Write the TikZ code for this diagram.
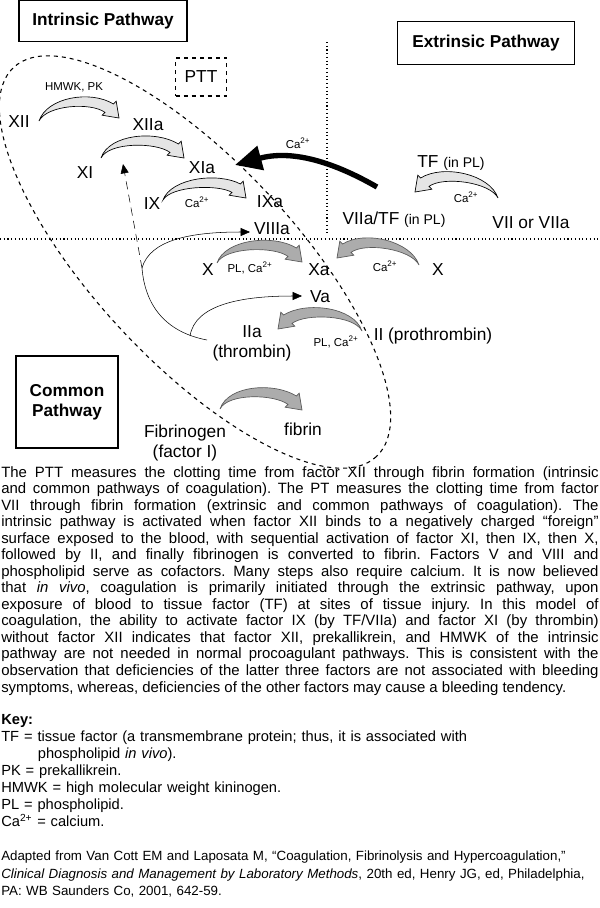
\documentclass[tikz,border=0pt]{standalone}
\usepackage{fontspec}
\setmainfont{Liberation Sans}
\usetikzlibrary{arrows.meta, calc}

% fat curved arrow: style, tail, tip, arch height, direction (1 right, -1 left)
\newcommand\fatarrow[5]{%
  \path[#1] (#2) .. controls ($(#2)+(8*#5,-#4)$) and ($(#3)+(-28*#5,-#4-4)$) .. ($(#3)+(-5.6*#5,-14)$)
    -- ($(#3)+(-2.8*#5,-16.8)$) -- (#3) -- ($(#3)+(-16.8*#5,-2.8)$) -- ($(#3)+(-14*#5,-5.6)$)
    .. controls ($(#3)+(-28*#5,-#4+8)$) and ($(#2)+(8*#5,-#4+8)$) .. (#2) -- cycle;}

\tikzset{
  fac/.style={font=\fontsize{13}{15}\selectfont, inner sep=1pt},
  small/.style={font=\fontsize{8.6}{10}\selectfont, inner sep=1pt},
  title/.style={draw, thick, font=\bfseries\fontsize{12.9}{15}\selectfont, align=center},
  light/.style={draw=black, fill=gray!20, line width=0.5pt},
  dark/.style={draw=gray!70!black, fill=gray!65, line width=0.5pt},
  thin/.style={line width=0.4pt, -{Triangle[length=7pt,width=6pt]}},
  divider/.style={dotted, line width=0.8pt},
}

\begin{document}
\frenchspacing
\begin{tikzpicture}[x=0.75pt, y=-0.75pt]
  \useasboundingbox (0,0) rectangle (600,908);

  % pathway boxes
  \node[title, minimum width=168*0.75pt, minimum height=41*0.75pt] (intr) at (103,21) {Intrinsic Pathway};
  \node[title, minimum width=177*0.75pt, minimum height=43*0.75pt] (extr) at (486,43) {Extrinsic Pathway};
  \node[title, minimum width=102*0.75pt, minimum height=92*0.75pt] (comm) at (67,402) {Common\\Pathway};
  \node[draw, dashed, thick, fac, minimum width=51*0.75pt, minimum height=38*0.75pt] (ptt) at (201,77) {PTT};

  % dividers
  \coordinate (vt) at (327,42);
  \coordinate (vb) at (327,236);
  \coordinate (hl) at (0,239);
  \coordinate (hr) at (600,239);
  \draw[divider] (vt) -- (vb);
  \draw[divider] (hl) -- (hr);

  % dashed ellipse
  \draw[dashed, thick] (195,262) ellipse [x radius=266, y radius=100, rotate=-47];

  % factors
  \node[fac] (xii) at (19,122) {XII};
  \node[small] (hmwk) at (74,87) {HMWK, PK};
  \node[fac] (xiia) at (148,125) {XIIa};
  \node[fac] (xi) at (85,173) {XI};
  \node[fac] (xia) at (202,168) {XIa};
  \node[fac] (ix) at (152,204) {IX};
  \node[small] (ca1) at (197,202) {Ca\textsuperscript{2+}};
  \node[fac] (ixa) at (270,202) {IXa};
  \node[fac] (viiia) at (272,229) {VIIIa};
  \node[small] (ca2) at (298,143) {Ca\textsuperscript{2+}};
  \node[fac] (tf) at (451,163) {TF \fontsize{10.5}{12}\selectfont(in PL)};
  \node[small] (ca3) at (466,197) {Ca\textsuperscript{2+}};
  \node[fac] (viiatf) at (394,220) {VIIa/TF \fontsize{10.5}{12}\selectfont(in PL)};
  \node[fac] (vii) at (531,223) {VII or VIIa};
  \node[fac] (xl) at (208,270) {X};
  \node[small] (plca1) at (250,268) {PL, Ca\textsuperscript{2+}};
  \node[fac] (xa) at (319,270) {Xa};
  \node[small] (ca4) at (385,266) {Ca\textsuperscript{2+}};
  \node[fac] (xr) at (438,270) {X};
  \node[fac] (va) at (320,297) {Va};
  \node[fac, align=center] (iia) at (252,343) {IIa\\(thrombin)};
  \node[small] (plca2) at (336,342) {PL, Ca\textsuperscript{2+}};
  \node[fac] (ii) at (433,336) {II (prothrombin)};
  \node[fac, align=center] (fbg) at (185,443) {Fibrinogen\\(factor I)};
  \node[fac] (fib) at (303,429) {fibrin};

  % activation arrows
  \coordinate (a1s) at (39,121);  \coordinate (a1e) at (119,118);
  \coordinate (a2s) at (101,158); \coordinate (a2e) at (184,158);
  \coordinate (a3s) at (163,200); \coordinate (a3e) at (246,198);
  \coordinate (a4s) at (498,198); \coordinate (a4e) at (415,192);
  \coordinate (a5s) at (217,263); \coordinate (a5e) at (302,262);
  \coordinate (a6s) at (419,265); \coordinate (a6e) at (337,258);
  \coordinate (a7s) at (362,331); \coordinate (a7e) at (278,329);
  \coordinate (a8s) at (220,409); \coordinate (a8e) at (302,410);
  \fatarrow{light}{a1s}{a1e}{24}{1}
  \fatarrow{light}{a2s}{a2e}{24}{1}
  \fatarrow{light}{a3s}{a3e}{22}{1}
  \fatarrow{light}{a4s}{a4e}{24}{-1}
  \fatarrow{dark}{a5s}{a5e}{24}{1}
  \fatarrow{dark}{a6s}{a6e}{24}{-1}
  \fatarrow{dark}{a7s}{a7e}{24}{-1}
  \fatarrow{dark}{a8s}{a8e}{24}{1}

  % TF/VIIa activates IX
  \coordinate (bk) at (377,187);
  \coordinate (bkt) at (235,165);
  \draw[line width=4pt, -{Triangle[length=20pt,width=18pt]}] (bk) .. controls (330,160) and (290,150) .. (bkt);

  % thrombin feedback
  \coordinate (th1) at (207,340);
  \coordinate (th2) at (190,336);
  \coordinate (jn) at (142,268);
  \coordinate (xit) at (123,164);
  \coordinate (viiit) at (250,232);
  \coordinate (vat) at (302,296);
  \draw[line width=0.4pt] (th1) .. controls (165,332) and (145,305) .. (jn);
  \draw[thin, dash pattern=on 6pt off 4pt] (jn) -- (xit);
  \draw[thin] (jn) .. controls (150,240) and (190,232) .. (viiit);
  \draw[thin] (th2) .. controls (195,305) and (240,296) .. (vat);

  % caption text
  \node[anchor=north west, inner sep=0pt, text width=448pt, align=justify,
        font=\fontsize{11.2}{12.4}\selectfont] (para) at (1,466)
  {The PTT measures the clotting time from factor XII through fibrin formation (intrinsic\linebreak
  and common pathways of coagulation). The PT measures the clotting time from factor\linebreak
  VII through fibrin formation (extrinsic and common pathways of coagulation). The\linebreak
  intrinsic pathway is activated when factor XII binds to a negatively charged “foreign”\linebreak
  surface exposed to the blood, with sequential activation of factor XI, then IX, then X,\linebreak
  followed by II, and finally fibrinogen is converted to fibrin. Factors V and VIII and\linebreak
  phospholipid serve as cofactors. Many steps also require calcium. It is now believed\linebreak
  that \emph{in vivo}, coagulation is primarily initiated through the extrinsic pathway, upon\linebreak
  exposure of blood to tissue factor (TF) at sites of tissue injury. In this model of\linebreak
  coagulation, the ability to activate factor IX (by TF/VIIa) and factor XI (by thrombin)\linebreak
  without factor XII indicates that factor XII, prekallikrein, and HMWK of the intrinsic\linebreak
  pathway are not needed in normal procoagulant pathways. This is consistent with the\linebreak
  observation that deficiencies of the latter three factors are not associated with bleeding\linebreak
  symptoms, whereas, deficiencies of the other factors may cause a bleeding tendency.};

  \node[anchor=north west, inner sep=0pt, text width=448pt, align=left,
        font=\fontsize{11}{12.8}\selectfont] (key) at (1,714)
  {\textbf{Key:}\\
  TF = tissue factor (a transmembrane protein; thus, it is associated with\\
  \hspace*{2.5em}phospholipid \emph{in vivo}).\\
  PK = prekallikrein.\\
  HMWK = high molecular weight kininogen.\\
  PL = phospholipid.\\
  Ca\textsuperscript{2+} = calcium.};

  \node[anchor=north west, inner sep=0pt, text width=448pt, align=left,
        font=\fontsize{10}{12.8}\selectfont] (src) at (1,851)
  {Adapted from Van Cott EM and Laposata M, “Coagulation, Fibrinolysis and Hypercoagulation,”\\
  \emph{Clinical Diagnosis and Management by Laboratory Methods}, 20th ed, Henry JG, ed, Philadelphia,\\
  PA: WB Saunders Co, 2001, 642-59.};
\end{tikzpicture}
\end{document}
